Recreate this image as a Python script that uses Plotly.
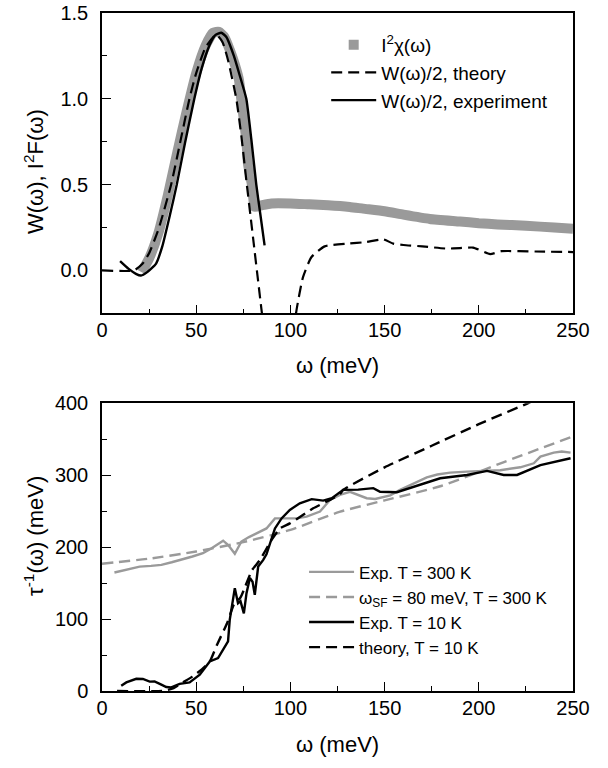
import plotly.graph_objects as go

FONT = "Liberation Sans, Arial, Helvetica, sans-serif"
GRAY = "#9a9a9a"
DASH = "11px,6px"

# ---------------- top panel data ----------------
chi_w = [21, 25, 30, 35, 40, 45, 50, 55, 59, 62, 65, 68, 70.5, 72.7, 74, 76.6, 77.5, 79.4, 80.3, 81,
         85, 90, 100, 110, 120, 131.5, 138.6, 150, 160, 174, 190, 200, 210, 225, 240, 250]
chi_v = [-0.01, 0.07, 0.22, 0.44, 0.69, 0.93, 1.15, 1.31, 1.385, 1.39, 1.36, 1.28, 1.2, 1.11, 0.99, 0.76, 0.62, 0.51, 0.42, 0.37,
         0.38, 0.39, 0.39, 0.385, 0.38, 0.37, 0.36, 0.345, 0.325, 0.30, 0.285, 0.275, 0.268, 0.26, 0.25, 0.243]

wth_w = [0, 17, 21.6, 25, 30, 36.7, 41, 46.4, 50, 55, 60.6, 64, 67, 71.3, 74, 76.6, 80.5, 84.6, 86, None,
         102, 103.2, 106.7, 111.2, 118.2, 130.6, 140, 149.3, 154.6, 160, 170, 183, 190, 197, 206, 212, 230, 250]
wth_v = [0, 0, 0.04, 0.1, 0.24, 0.5, 0.72, 1.0, 1.15, 1.3, 1.374, 1.33, 1.22, 1.0, 0.78, 0.526, 0.16, -0.224, -0.35, None,
         -0.35, -0.234, -0.039, 0.078, 0.14, 0.156, 0.165, 0.181, 0.156, 0.148, 0.14, 0.127, 0.13, 0.133, 0.095, 0.112, 0.11, 0.107]

wexp_w = [9.6, 14, 18, 20.7, 24, 28.7, 32, 36, 39.7, 44, 49, 53, 57, 60, 63.3, 66, 70, 73, 76.6, 79.3, 81.9, 84, 86.3]
wexp_v = [0.054, 0.01, -0.02, -0.03, -0.01, 0.04, 0.14, 0.32, 0.5, 0.74, 1.0, 1.18, 1.31, 1.37, 1.385, 1.36, 1.25, 1.14, 1.0, 0.76, 0.5, 0.33, 0.146]

# ---------------- bottom panel data ----------------
exp300_w = [6.6, 12, 20, 26, 31.5, 37, 43, 48, 53.6, 58, 64.3, 67, 70.5, 74, 78, 82, 87.3, 91.8, 97, 103.3, 108.6,
            115.7, 121, 126.3, 131.6, 136, 140.5, 145, 149.4, 153, 158.2, 165, 172.4, 178, 184.8, 193.7, 200, 211.4,
            222, 229.2, 232.7, 239.8, 244, 248.7]
exp300_v = [164.7, 168, 173, 174, 175.4, 179, 183, 187, 191.6, 198, 209, 203, 190.7, 207.8, 214, 219, 226, 240, 240, 240, 242.5,
            249.5, 265.7, 272.6, 277, 273, 268, 267, 269.4, 272, 279.6, 288, 297, 301, 303.6, 305, 306, 307,
            311, 316.6, 325.8, 331.4, 333, 331.4]

sf_w = [0, 25, 50, 75, 100, 126, 150, 180, 213, 250]
sf_v = [177, 184, 194, 207, 224, 249, 265, 285, 318, 354]

exp10_w = [10.2, 12.9, 18.2, 21.7, 25.3, 27.9, 31.5, 34.1, 36.8, 41.2, 46.5, 51.9, 57.2, 61.6, 66.9, 67.8, 70.5, 72.2,
           73.5, 75.3, 76.7, 78.5, 79.9, 81.1, 82.9, 85.5, 87.3, 90, 91.8, 95.3, 99.7, 105, 111.3, 117.4, 122, 128,
           136, 144, 147.6, 156.5, 167.1, 179.5, 193.7, 204.4, 213.2, 220.3, 232.7, 248.7]
exp10_v = [7.4, 12, 17, 16.7, 13, 13.4, 8.8, 5.5, 5, 10, 12, 22.6, 41, 45.8, 69, 99, 143, 122,
           125, 108, 136, 157, 152, 133.7, 173, 182, 190, 210, 226, 240, 251.8, 261, 266.7, 264.7, 268, 279.6,
           280, 282, 277, 276.4, 285, 295.8, 300.4, 306, 300.4, 300.4, 314, 323.6]

th10_w = [8, 32, 38, 43, 48, 53, 57, 61, 66.5, 70, 73.5, 76, 79.6, 83.8, 90, 94.4, 99.7, 106.8, 112.1, 121, 126.3,
          128, 150, 175, 200, 226, 230]
th10_v = [0, 0, 4, 12, 20, 30, 40, 64, 95, 120, 130, 145, 168, 182, 210, 226, 233, 245, 254, 265.7, 273.6,
          279.6, 311, 341, 371, 400, 405]

# axis titles
x_title = "ω (meV)"
y_title_top = "W(ω), I<sup>2</sup>F(ω)"
y_title_bottom = "τ<sup>-1</sup>(ω) (meV)"

fig = go.Figure()

# top panel
fig.add_trace(go.Scatter(x=chi_w, y=chi_v, mode="lines", line=dict(color=GRAY, width=10, shape="spline", smoothing=0.5),
                         showlegend=False, xaxis="x", yaxis="y", hoverinfo="skip"))
fig.add_trace(go.Scatter(x=[None], y=[None], mode="markers", name="I<sup>2</sup>χ(ω)",
                         marker=dict(symbol="square", size=10, color=GRAY), xaxis="x", yaxis="y", legend="legend"))
fig.add_trace(go.Scatter(x=wth_w, y=wth_v, mode="lines", name="W(ω)/2, theory",
                         line=dict(color="black", width=2.2, dash=DASH, shape="spline", smoothing=0.5),
                         connectgaps=False, xaxis="x", yaxis="y", legend="legend"))
fig.add_trace(go.Scatter(x=wexp_w, y=wexp_v, mode="lines", name="W(ω)/2, experiment",
                         line=dict(color="black", width=2.4, shape="spline", smoothing=0.5),
                         xaxis="x", yaxis="y", legend="legend"))

# bottom panel
fig.add_trace(go.Scatter(x=exp300_w, y=exp300_v, mode="lines", name="Exp. T = 300 K",
                         line=dict(color=GRAY, width=2.4), xaxis="x2", yaxis="y2", legend="legend2"))
fig.add_trace(go.Scatter(x=sf_w, y=sf_v, mode="lines", name="ω<sub>SF</sub> = 80 meV, T = 300 K",
                         line=dict(color=GRAY, width=2.4, dash=DASH, shape="spline", smoothing=0.6),
                         xaxis="x2", yaxis="y2", legend="legend2"))
fig.add_trace(go.Scatter(x=exp10_w, y=exp10_v, mode="lines", name="Exp. T = 10 K",
                         line=dict(color="black", width=2.4), xaxis="x2", yaxis="y2", legend="legend2"))
fig.add_trace(go.Scatter(x=th10_w, y=th10_v, mode="lines", name="theory, T = 10 K",
                         line=dict(color="black", width=2.4, dash=DASH, shape="spline", smoothing=0.5),
                         xaxis="x2", yaxis="y2", legend="legend2"))

def minor(dt):
    return dict(ticks="inside", ticklen=5, tickwidth=1.3, tickcolor="black", dtick=dt, tick0=0, showgrid=False)

def axis(**kw):
    d = dict(showline=True, linecolor="black", linewidth=1.5, mirror=True,
             ticks="inside", ticklen=9, tickwidth=1.3, tickcolor="black",
             showgrid=False, zeroline=False, ticklabelstandoff=8, automargin=False,
             tickfont=dict(family=FONT, size=20, color="black"))
    d.update(kw)
    return d

TITLE_FONT = dict(family=FONT, size=22, color="black")
L, R, T, B = 102, 35, 13, 77
H_PLOT = 768 - T - B

def py2paper(py):
    return (768 - B - py) / H_PLOT

def px2paper(px):
    return (px - L) / (608 - L - R)

fig.update_layout(
    template="none",
    width=608, height=768,
    margin=dict(l=L, r=R, t=T, b=B),
    paper_bgcolor="white", plot_bgcolor="white",
    font=dict(family=FONT, color="black"),
    xaxis=axis(domain=[0, 1], anchor="y", range=[0, 250], dtick=50, tick0=0, minor=minor(25), ticklabelstandoff=-2),
    yaxis=axis(domain=[py2paper(313.3), 1], anchor="x", range=[-0.25, 1.5], dtick=0.5, tick0=0,
               tickformat=".1f", minor=minor(0.25)),
    xaxis2=axis(domain=[0, 1], anchor="y2", range=[0, 250], dtick=50, tick0=0, minor=minor(25), ticklabelstandoff=-2),
    yaxis2=axis(domain=[0, py2paper(403.3)], anchor="x2", range=[0, 400], dtick=100, tick0=0, minor=minor(50)),
    legend=dict(x=0.476, y=0.981, xanchor="left", yanchor="top", bgcolor="rgba(0,0,0,0)",
                font=dict(family=FONT, size=19, color="black"), itemwidth=45, tracegroupgap=0),
    legend2=dict(x=0.429, y=0.2016, xanchor="left", yanchor="top", bgcolor="rgba(0,0,0,0)",
                 font=dict(family=FONT, size=17, color="black"), itemwidth=45, tracegroupgap=0),
    annotations=[
        dict(text=x_title, xref="paper", yref="paper", x=px2paper(337), y=py2paper(365),
             xanchor="center", yanchor="middle", showarrow=False, font=TITLE_FONT),
        dict(text=x_title, xref="paper", yref="paper", x=px2paper(337), y=py2paper(744),
             xanchor="center", yanchor="middle", showarrow=False, font=TITLE_FONT),
        dict(text=y_title_top, xref="paper", yref="paper", x=px2paper(34), y=py2paper(172),
             xanchor="center", yanchor="middle", textangle=-90, showarrow=False, font=TITLE_FONT),
        dict(text=y_title_bottom, xref="paper", yref="paper", x=px2paper(34), y=py2paper(536),
             xanchor="center", yanchor="middle", textangle=-90, showarrow=False, font=TITLE_FONT),
    ],
)

fig.write_html("out.html", config={"displayModeBar": False},
               post_script="document.body.style.margin='0px';")
